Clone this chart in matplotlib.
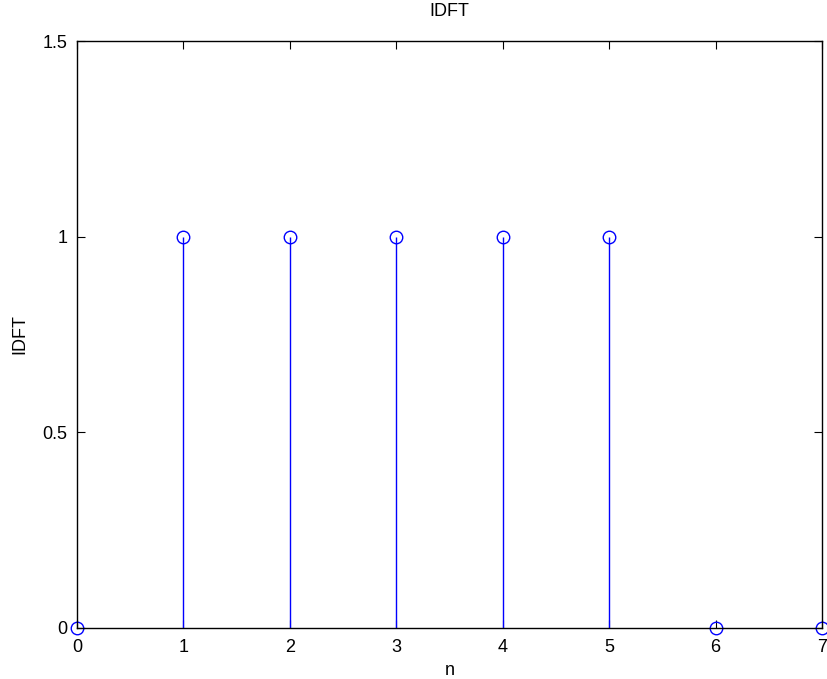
import matplotlib
matplotlib.use("Agg")
import matplotlib.pyplot as plt

n = [0, 1, 2, 3, 4, 5, 6, 7]
idft = [0, 1, 1, 1, 1, 1, 0, 0]
xticks = [0, 1, 2, 3, 4, 5, 6, 7]
yticks = [0, 0.5, 1, 1.5]
yticklabels = ["0", "0.5", "1", "1.5"]

plt.rcParams['font.family'] = ['Liberation Sans', 'DejaVu Sans']
fig = plt.figure(figsize=(8.28, 6.79), dpi=100)
ax = fig.add_axes([77/828, 51/679, 745/828, 587/679])

ml, sl, bl = ax.stem(n, idft, linefmt='b-', markerfmt='o', basefmt=' ')
ml.set_markerfacecolor('none')
ml.set_markeredgecolor('blue')
ml.set_markersize(9)
ml.set_markeredgewidth(1.0)
ml.set_clip_on(False)
sl.set_linewidth(1.0)

ax.set_xlim(0, 7)
ax.set_ylim(0, 1.5)
ax.set_xticks(xticks)
ax.set_yticks(yticks)
ax.set_yticklabels(yticklabels)
ax.tick_params(direction='in', top=True, right=True, labelsize=13, length=6, width=0.8)
ax.tick_params(axis='x', pad=8)
ax.tick_params(axis='y', pad=7)
for s in ax.spines.values():
    s.set_linewidth(1.0)
ax.set_xlabel('n', fontsize=13, labelpad=4)
ax.set_ylabel('IDFT', fontsize=13, labelpad=10)
ax.set_title('IDFT', fontsize=13, pad=18)

fig.savefig('out.png', dpi=100)
